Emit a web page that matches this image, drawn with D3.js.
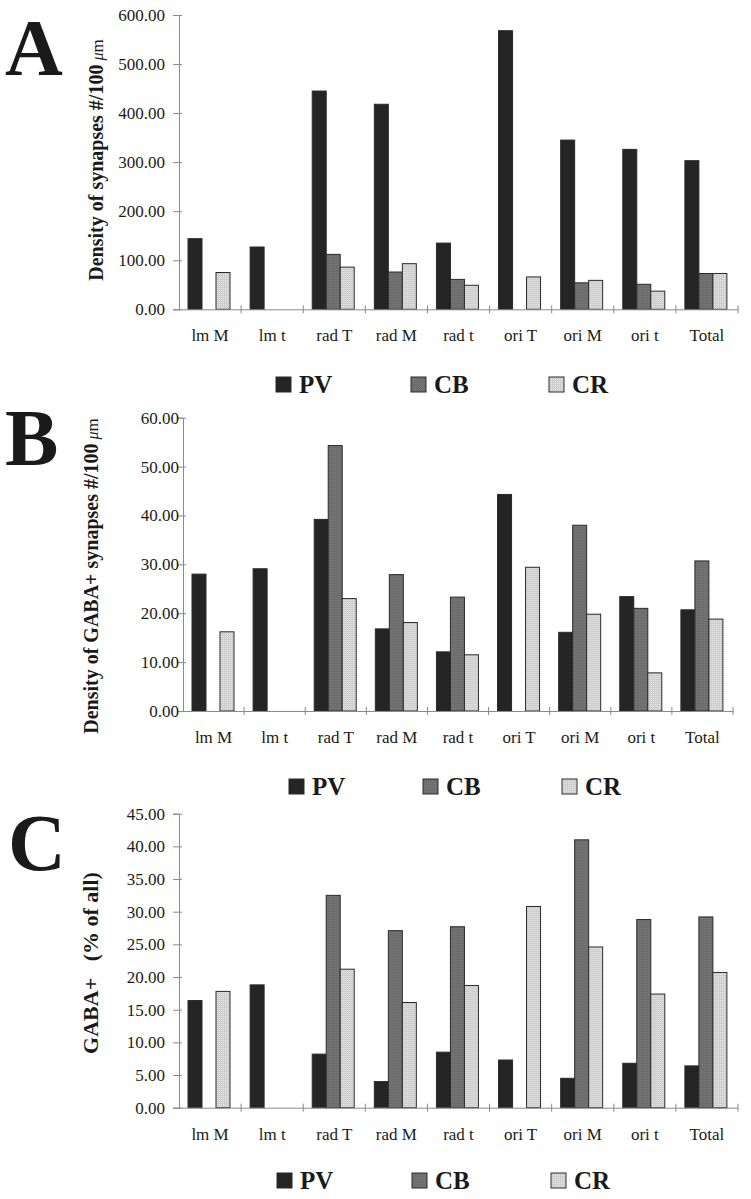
<!DOCTYPE html>
<html>
<head>
<meta charset="utf-8">
<script src="https://cdn.jsdelivr.net/npm/d3@7"></script>
<style>
  body { margin: 0; background: #fff; }
  svg { display: block; }
  text { font-family: "Liberation Serif", "Times New Roman", serif; fill: #1a1a1a; }
</style>
</head>
<body>
<div id="chart"></div>
<script>
// categories and series
const categories = ["lm M", "lm t", "rad T", "rad M", "rad t", "ori T", "ori M", "ori t", "Total"];
const series = ["PV", "CB", "CR"];

// A: density of synapses
const densityPV = [144, 127, 445, 418, 135, 568, 345, 326, 303];
const densityCB = [0, 0, 112, 76, 61, 0, 54, 51, 73];
const densityCR = [75, 0, 86, 93, 49, 66, 59, 37, 73];
const densityTicks = [0, 100, 200, 300, 400, 500, 600];

// B: density of GABA+ synapses
const gabaPV = [28.0, 29.1, 39.2, 16.8, 12.1, 44.3, 16.1, 23.4, 20.7];
const gabaCB = [0, 0, 54.3, 27.9, 23.3, 0, 38.0, 21.0, 30.7];
const gabaCR = [16.2, 0, 23.0, 18.1, 11.5, 29.4, 19.8, 7.8, 18.8];
const gabaTicks = [0, 10, 20, 30, 40, 50, 60];

// C: GABA+ (% of all)
const pctPV = [16.4, 18.8, 8.2, 4.0, 8.5, 7.3, 4.5, 6.8, 6.4];
const pctCB = [0, 0, 32.5, 27.1, 27.7, 0, 41.0, 28.8, 29.2];
const pctCR = [17.8, 0, 21.2, 16.1, 18.7, 30.8, 24.6, 17.4, 20.7];
const pctTicks = [0, 5, 10, 15, 20, 25, 30, 35, 40, 45];

const fills = { PV: "#232323", CB: "#6c6c6c", CR: "#cdcdcd" };
const serif = "'Liberation Serif', 'Times New Roman', serif";

const svg = d3.select("#chart").append("svg")
    .attr("width", 751)
    .attr("height", 1199);

// speckle patterns to mimic the printed texture
const defs = svg.append("defs");
series.forEach(function (s) {
    const p = defs.append("pattern")
        .attr("id", "pat" + s)
        .attr("width", 2).attr("height", 2)
        .attr("patternUnits", "userSpaceOnUse");
    p.append("rect").attr("width", 2).attr("height", 2).attr("fill", fills[s]);
    p.append("rect").attr("width", 1).attr("height", 1)
        .attr("fill", d3.color(fills[s]).brighter(0.35));
});

function drawPanel(cfg) {
    const rows = categories.map(function (c, i) {
        return { cat: c, PV: cfg.pv[i], CB: cfg.cb[i], CR: cfg.cr[i] };
    });

    const x = d3.scaleBand().domain(categories).range([cfg.x0, cfg.x1]);
    const xs = d3.scaleBand().domain(series).range([9, 51]);
    const y = d3.scaleLinear()
        .domain([0, d3.max(cfg.ticks)])
        .range([cfg.y0, cfg.yTop]);

    const g = svg.append("g");

    // y axis
    const yAxis = g.append("g")
        .attr("transform", "translate(" + cfg.x0 + ",0)")
        .call(d3.axisLeft(y).tickValues(cfg.ticks).tickFormat(d3.format(".2f"))
            .tickSize(6).tickPadding(cfg.tickPad));
    yAxis.select(".domain").attr("stroke", "#8a8a8a");
    yAxis.selectAll(".tick line").attr("stroke", "#8a8a8a").attr("x1", 3);
    yAxis.selectAll(".tick text")
        .style("font-size", "17px")
        .style("font-family", serif)
        .attr("fill", "#1a1a1a");

    // bars
    const grp = g.selectAll(".grp")
        .data(rows)
        .enter().append("g")
        .attr("transform", function (d) { return "translate(" + x(d.cat) + ",0)"; });
    grp.selectAll("rect")
        .data(function (d) {
            return series.map(function (s) { return { key: s, value: d[s] }; })
                .filter(function (e) { return e.value > 0; });
        })
        .enter().append("rect")
        .attr("x", function (d) { return xs(d.key); })
        .attr("width", xs.bandwidth())
        .attr("y", function (d) { return y(d.value); })
        .attr("height", function (d) { return cfg.y0 - y(d.value); })
        .attr("fill", function (d) { return "url(#pat" + d.key + ")"; })
        .attr("stroke", "#2a2a2a")
        .attr("stroke-width", 1);

    // x axis with labels
    const xAxis = g.append("g")
        .attr("transform", "translate(0," + cfg.y0 + ")")
        .call(d3.axisBottom(x).tickSize(0).tickPadding(20));
    xAxis.select(".domain").attr("stroke", "#8a8a8a");
    xAxis.selectAll(".tick text")
        .style("font-size", "17px")
        .style("font-family", serif)
        .attr("fill", "#1a1a1a");

    // boundary ticks between groups
    g.selectAll(".bt")
        .data(categories)
        .enter().append("line")
        .attr("x1", function (d) { return x(d) + x.step(); })
        .attr("x2", function (d) { return x(d) + x.step(); })
        .attr("y1", cfg.y0 - 4)
        .attr("y2", cfg.y0 + 4)
        .attr("stroke", "#8a8a8a");

    // y title
    const t = g.append("text")
        .attr("transform", "translate(" + cfg.titleX + "," + cfg.titleY + ") rotate(-90)")
        .attr("text-anchor", "middle")
        .style("font-size", cfg.titleSize + "px")
        .style("font-weight", "bold");
    t.append("tspan").text(cfg.title);
    if (cfg.unit) {
        t.append("tspan").text(" \u03bc").style("font-style", "italic").style("font-weight", "normal").style("font-size", "16px");
        t.append("tspan").text("m").style("font-weight", "normal").style("font-size", "17px");
    }

    // panel letter
    g.append("text")
        .attr("x", cfg.letterX)
        .attr("y", cfg.letterY)
        .style("font-size", "80px")
        .style("font-weight", "bold")
        .attr("fill", "#000")
        .text(cfg.letter);

    // legend
    const lg = g.selectAll(".lg")
        .data(series)
        .enter().append("g")
        .attr("transform", function (d, i) {
            return "translate(" + cfg.legendX[i] + "," + cfg.legendY + ")";
        });
    lg.append("rect")
        .attr("x", 0).attr("y", -16)
        .attr("width", 15).attr("height", 15)
        .attr("fill", function (d) { return "url(#pat" + d + ")"; })
        .attr("stroke", "#2a2a2a");
    lg.append("text")
        .attr("x", 23)
        .attr("y", 0)
        .style("font-size", "25px")
        .style("font-weight", "bold")
        .attr("fill", "#000")
        .text(function (d) { return d; });
}

drawPanel({
    letter: "A", letterX: 5, letterY: 75,
    pv: densityPV, cb: densityCB, cr: densityCR, ticks: densityTicks,
    x0: 179, x1: 738, y0: 309.3, yTop: 15, tickPad: 8,
    title: "Density of synapses #/100", unit: true, titleSize: 20, titleX: 103, titleY: 160,
    legendX: [276, 411, 549], legendY: 393
});

drawPanel({
    letter: "B", letterX: 5, letterY: 465,
    pv: gabaPV, cb: gabaCB, cr: gabaCR, ticks: gabaTicks,
    x0: 183, x1: 733, y0: 711, yTop: 417.7, tickPad: -2,
    title: "Density of GABA+ synapses #/100", unit: true, titleSize: 20, titleX: 98, titleY: 576,
    legendX: [289, 423, 562], legendY: 795
});

drawPanel({
    letter: "C", letterX: 8, letterY: 870,
    pv: pctPV, cb: pctCB, cr: pctCR, ticks: pctTicks,
    x0: 179, x1: 738, y0: 1107.7, yTop: 813.7, tickPad: 8,
    title: "GABA+\u00a0\u00a0\u00a0(% of all)", unit: false, titleSize: 22, titleX: 98, titleY: 963,
    legendX: [277, 412, 551], legendY: 1189
});
</script>
</body>
</html>
